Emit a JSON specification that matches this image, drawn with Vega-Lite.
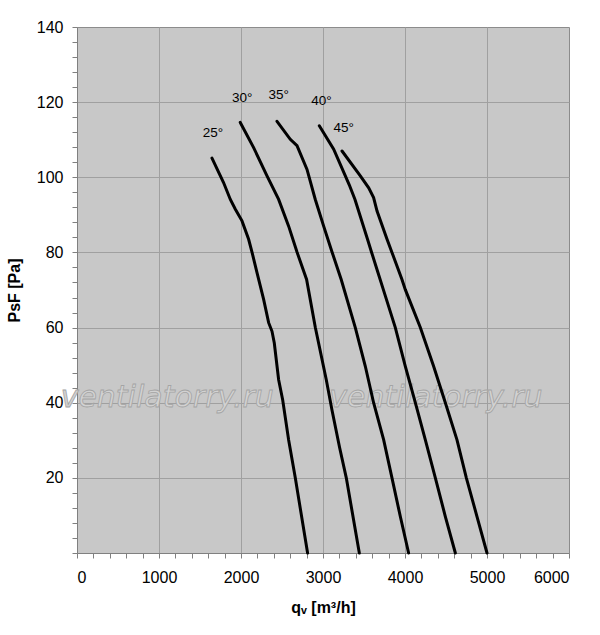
{
  "$schema": "https://vega.github.io/schema/vega-lite/v6.json",
  "width": 492,
  "height": 526,
  "padding": {"left": 6, "top": 19, "right": 5, "bottom": 5},
  "background": "white",
  "datasets": {
    "curves": [
      {"angle": "25°", "q": 1646, "p": 105.1},
      {"angle": "25°", "q": 1787, "p": 98.6},
      {"angle": "25°", "q": 1870, "p": 94.1},
      {"angle": "25°", "q": 1931, "p": 91.5},
      {"angle": "25°", "q": 2012, "p": 88.4},
      {"angle": "25°", "q": 2093, "p": 83.5},
      {"angle": "25°", "q": 2134, "p": 80.1},
      {"angle": "25°", "q": 2195, "p": 74.6},
      {"angle": "25°", "q": 2276, "p": 67.5},
      {"angle": "25°", "q": 2337, "p": 61.3},
      {"angle": "25°", "q": 2378, "p": 59.0},
      {"angle": "25°", "q": 2406, "p": 55.9},
      {"angle": "25°", "q": 2459, "p": 46.1},
      {"angle": "25°", "q": 2508, "p": 40.8},
      {"angle": "25°", "q": 2581, "p": 30.1},
      {"angle": "25°", "q": 2662, "p": 20},
      {"angle": "25°", "q": 2812, "p": 0},
      {"angle": "30°", "q": 1991, "p": 114.6},
      {"angle": "30°", "q": 2154, "p": 107.9},
      {"angle": "30°", "q": 2317, "p": 100.4},
      {"angle": "30°", "q": 2459, "p": 94.1},
      {"angle": "30°", "q": 2581, "p": 87.0},
      {"angle": "30°", "q": 2683, "p": 80.1},
      {"angle": "30°", "q": 2800, "p": 72.8},
      {"angle": "30°", "q": 2906, "p": 60.1},
      {"angle": "30°", "q": 3040, "p": 46.1},
      {"angle": "30°", "q": 3110, "p": 38.0},
      {"angle": "30°", "q": 3203, "p": 28.0},
      {"angle": "30°", "q": 3284, "p": 20},
      {"angle": "30°", "q": 3443, "p": 0},
      {"angle": "35°", "q": 2439, "p": 114.9},
      {"angle": "35°", "q": 2601, "p": 110.1},
      {"angle": "35°", "q": 2683, "p": 108.4},
      {"angle": "35°", "q": 2805, "p": 102.1},
      {"angle": "35°", "q": 2906, "p": 94.1},
      {"angle": "35°", "q": 3008, "p": 87.0},
      {"angle": "35°", "q": 3112, "p": 80.0},
      {"angle": "35°", "q": 3222, "p": 72.8},
      {"angle": "35°", "q": 3394, "p": 60},
      {"angle": "35°", "q": 3516, "p": 49.7},
      {"angle": "35°", "q": 3617, "p": 40},
      {"angle": "35°", "q": 3740, "p": 30.1},
      {"angle": "35°", "q": 3841, "p": 20},
      {"angle": "35°", "q": 3943, "p": 9.7},
      {"angle": "35°", "q": 4044, "p": 0},
      {"angle": "40°", "q": 2955, "p": 113.7},
      {"angle": "40°", "q": 3130, "p": 107.5},
      {"angle": "40°", "q": 3320, "p": 98.0},
      {"angle": "40°", "q": 3390, "p": 94.1},
      {"angle": "40°", "q": 3543, "p": 83.5},
      {"angle": "40°", "q": 3593, "p": 80.0},
      {"angle": "40°", "q": 3671, "p": 74.6},
      {"angle": "40°", "q": 3736, "p": 70.1},
      {"angle": "40°", "q": 3882, "p": 60},
      {"angle": "40°", "q": 4004, "p": 49.7},
      {"angle": "40°", "q": 4126, "p": 40},
      {"angle": "40°", "q": 4248, "p": 30.1},
      {"angle": "40°", "q": 4370, "p": 20},
      {"angle": "40°", "q": 4492, "p": 9.7},
      {"angle": "40°", "q": 4614, "p": 0},
      {"angle": "45°", "q": 3232, "p": 107.0},
      {"angle": "45°", "q": 3455, "p": 100.4},
      {"angle": "45°", "q": 3557, "p": 97.2},
      {"angle": "45°", "q": 3617, "p": 94.6},
      {"angle": "45°", "q": 3659, "p": 91.0},
      {"angle": "45°", "q": 3781, "p": 83.5},
      {"angle": "45°", "q": 3841, "p": 80.0},
      {"angle": "45°", "q": 3963, "p": 72.8},
      {"angle": "45°", "q": 4004, "p": 70.1},
      {"angle": "45°", "q": 4187, "p": 60},
      {"angle": "45°", "q": 4349, "p": 49.7},
      {"angle": "45°", "q": 4492, "p": 40},
      {"angle": "45°", "q": 4634, "p": 30.1},
      {"angle": "45°", "q": 4748, "p": 20},
      {"angle": "45°", "q": 4878, "p": 9.7},
      {"angle": "45°", "q": 5000, "p": 0}
    ],
    "labels": [
      {"angle": "25°", "q": 1659, "p": 111.7},
      {"angle": "30°", "q": 2014, "p": 121.1},
      {"angle": "35°", "q": 2460, "p": 121.8},
      {"angle": "40°", "q": 2980, "p": 120.2},
      {"angle": "45°", "q": 3252, "p": 113.2}
    ],
    "watermark": [
      {"text": "ventilatorry.ru", "q": 1100, "p": 41.3},
      {"text": "ventilatorry.ru", "q": 4377, "p": 41.3}
    ]
  },
  "encoding": {
    "x": {
      "field": "q",
      "type": "quantitative",
      "scale": {"domain": [0, 6000], "nice": false},
      "title": "qᵥ [m³/h]",
      "axis": {
        "values": [0, 200, 400, 600, 800, 1000, 1200, 1400, 1600, 1800, 2000, 2200, 2400, 2600, 2800, 3000, 3200, 3400, 3600, 3800, 4000, 4200, 4400, 4600, 4800, 5000, 5200, 5400, 5600, 5800, 6000],
        "labelExpr": "datum.value % 1000 === 0 ? datum.value : ''",
        "gridOpacity": {"condition": {"test": "datum.value % 1000 === 0 && datum.value > 0 && datum.value < 6000", "value": 1}, "value": 0},
        "labelPadding": 11,
        "titlePadding": 14
      }
    },
    "y": {
      "field": "p",
      "type": "quantitative",
      "scale": {"domain": [0, 140], "nice": false},
      "title": "PsF [Pa]",
      "axis": {
        "values": [0, 4, 8, 12, 16, 20, 24, 28, 32, 36, 40, 44, 48, 52, 56, 60, 64, 68, 72, 76, 80, 84, 88, 92, 96, 100, 104, 108, 112, 116, 120, 124, 128, 132, 136, 140],
        "labelExpr": "datum.value % 20 === 0 && datum.value > 0 ? datum.value : ''",
        "gridOpacity": {"condition": {"test": "datum.value % 20 === 0 && datum.value > 0 && datum.value < 140", "value": 1}, "value": 0},
        "labelPadding": 9,
        "titlePadding": 14
      }
    }
  },
  "layer": [
    {
      "data": {"name": "watermark"},
      "mark": {
        "type": "text",
        "font": "DejaVu Sans",
        "fontStyle": "italic",
        "fontSize": 30,
        "fill": "#d2d2d2",
        "stroke": "#a4a4a4",
        "strokeWidth": 0.8
      },
      "encoding": {"text": {"field": "text"}}
    },
    {
      "data": {"name": "curves"},
      "mark": {"type": "line", "color": "black", "strokeWidth": 3, "strokeCap": "round"},
      "encoding": {"detail": {"field": "angle"}}
    },
    {
      "data": {"name": "labels"},
      "mark": {"type": "text", "font": "Liberation Sans", "fontSize": 13.5, "color": "black"},
      "encoding": {"text": {"field": "angle"}}
    }
  ],
  "config": {
    "view": {"fill": "#c8c8c8", "stroke": "#8c8c8c"},
    "axis": {
      "labelFont": "Liberation Sans",
      "labelFontSize": 16,
      "labelColor": "black",
      "titleFont": "Liberation Sans",
      "titleFontSize": 16,
      "titleFontWeight": "bold",
      "titleColor": "black",
      "domainColor": "#808080",
      "tickColor": "#808080",
      "tickSize": 5,
      "gridColor": "#a0a0a0",
      "grid": true
    }
  }
}
